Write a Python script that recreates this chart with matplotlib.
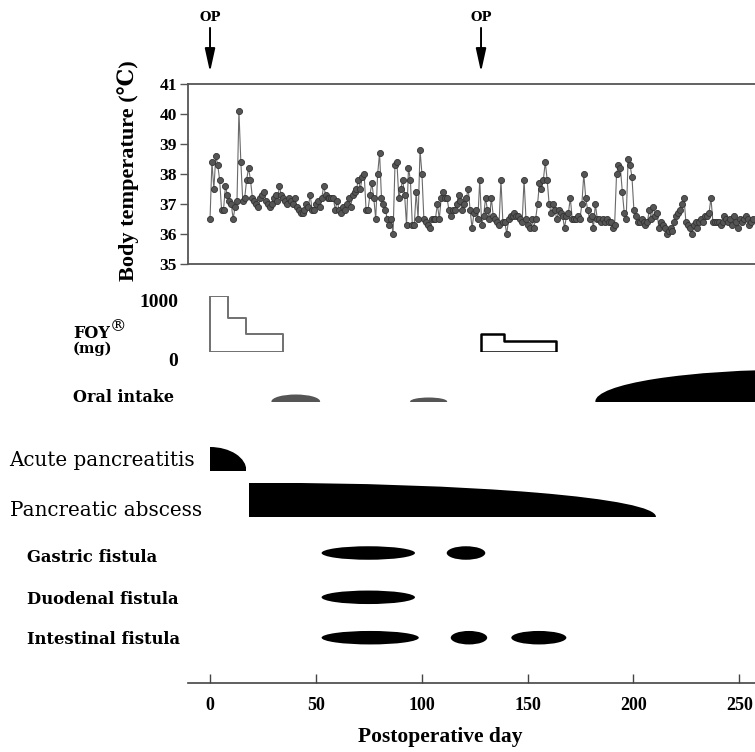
import numpy as np
import matplotlib
matplotlib.use("Agg")
import matplotlib.pyplot as plt
from matplotlib.patches import Ellipse, Rectangle

# ---- data ----
# body temperature readings (deg C), one reading about every 0.91 day from day 0
temp_interval = 0.91
temp = [36.5, 38.4, 37.5, 38.6, 38.3, 37.8, 36.8, 36.8, 37.6, 37.3,
        37.1, 37.0, 36.5, 36.9, 37.1, 40.1, 38.4, 37.1, 37.2, 37.8,
        38.2, 37.8, 37.2, 37.1, 37.0, 36.9, 37.2, 37.3, 37.4, 37.1,
        37.0, 36.9, 37.0, 37.2, 37.3, 37.1, 37.6, 37.3, 37.2, 37.1,
        37.0, 37.2, 37.1, 37.0, 37.2, 36.9, 36.8, 36.7, 36.7, 36.8,
        37.0, 36.9, 37.3, 36.8, 36.8, 37.0, 37.1, 36.9, 37.2, 37.6,
        37.3, 37.2, 37.2, 37.2, 37.2, 36.8, 37.1, 36.8, 36.7, 36.9,
        36.8, 37.0, 37.2, 36.9, 37.3, 37.4, 37.5, 37.8, 37.5, 37.9,
        38.0, 36.8, 36.8, 37.3, 37.7, 37.2, 36.5, 38.0, 38.7, 37.2,
        37.0, 36.8, 36.5, 36.3, 36.5, 36.0, 38.3, 38.4, 37.2, 37.5,
        37.8, 37.3, 36.3, 38.2, 37.8, 36.3, 36.3, 37.4, 36.5, 38.8,
        38.0, 36.5, 36.4, 36.3, 36.2, 36.5, 36.5, 36.5, 37.0, 36.5,
        37.2, 37.4, 37.2, 37.2, 36.8, 36.6, 36.8, 36.8, 37.0, 37.3,
        37.1, 36.8, 37.0, 37.2, 37.5, 36.8, 36.2, 36.7, 36.8, 36.5,
        37.8, 36.3, 36.6, 37.2, 36.8, 36.5, 37.2, 36.6, 36.5, 36.4,
        36.3, 37.8, 36.4, 36.4, 36.0, 36.5, 36.6, 36.6, 36.7, 36.6,
        36.6, 36.5, 36.4, 37.8, 36.5, 36.3, 36.2, 36.5, 36.2, 36.5,
        37.0, 37.7, 37.5, 37.8, 38.4, 37.8, 37.0, 36.7, 37.0, 36.8,
        36.5, 36.8, 36.7, 36.6, 36.2, 36.6, 36.7, 37.2, 36.5, 36.5,
        36.5, 36.6, 36.5, 37.0, 38.0, 37.2, 36.8, 36.5, 36.6, 36.2,
        37.0, 36.5, 36.5, 36.4, 36.5, 36.4, 36.5, 36.4, 36.4, 36.2,
        36.3, 38.0, 38.3, 38.2, 37.4, 36.7, 36.5, 38.5, 38.3, 37.9,
        36.8, 36.6, 36.4, 36.4, 36.5, 36.4, 36.3, 36.4, 36.8, 36.5,
        36.9, 36.6, 36.7, 36.2, 36.4, 36.3, 36.2, 36.0, 36.1, 36.2,
        36.1, 36.4, 36.6, 36.7, 36.8, 37.0, 37.2, 36.4, 36.3, 36.2,
        36.0, 36.3, 36.4, 36.2, 36.4, 36.5, 36.4, 36.6, 36.6, 36.7,
        37.2, 36.4, 36.4, 36.4, 36.4, 36.3, 36.4, 36.6, 36.5, 36.4,
        36.5, 36.3, 36.6, 36.4, 36.2, 36.5, 36.4, 36.5, 36.6, 36.5,
        36.3, 36.4, 36.5]
temp_days = np.arange(len(temp)) * temp_interval

op_days = [0, 128]

# FOY dose (mg): step edges (days) and dose per step
foy1_edges = [0, 8.5, 17, 34.5]
foy1_dose = [1000, 600, 320]
foy2_edges = [128, 139, 163.5]
foy2_dose = [330, 190]

# oral intake episodes: start day, end day, relative amount
oral_start = [29, 94.5, 182]
oral_end = [52, 112, 375]
oral_amount = [7, 4, 32]
oral_color = ["#555555", "#555555", "black"]

# clinical course rows
acute_days = (0, 17.2)
abscess_days = (18.4, 210.6)
gastric = [(52.7, 96.8), (111.8, 130)]
duodenal = [(52.7, 96.8)]
intestinal = [(52.7, 98.6), (113.7, 130.9), (142.3, 168.3)]

day_ticks = [0, 50, 100, 150, 200, 250]
temp_ticks = [35, 36, 37, 38, 39, 40, 41]

# ---- layout ----
W, H = 755, 752
fig = plt.figure(figsize=(W / 100, H / 100), dpi=100)
serif = ["Liberation Serif", "DejaVu Serif"]
wide = ["DejaVu Serif"]
plt.rcParams["font.family"] = serif


def box(x0, y0, x1, y1):
    return [x0 / W, 1 - y1 / H, (x1 - x0) / W, (y1 - y0) / H]


xlim = (-10.4, 257.4)

# temperature panel
ax_t = fig.add_axes(box(188, 84, 755, 264))
ax_t.plot(temp_days, temp, color="#6a6a6a", lw=0.8, marker="o", ms=4.4,
          mfc="#555555", mec="#333333", mew=0.6)
ax_t.set_xlim(xlim)
ax_t.set_ylim(35, 41)
ax_t.set_xticks([])
ax_t.set_yticks(temp_ticks)
ax_t.spines["right"].set_visible(False)
for s in ["left", "top", "bottom"]:
    ax_t.spines[s].set_color("#555555")
    ax_t.spines[s].set_linewidth(1.3)
ax_t.tick_params(axis="y", direction="out", length=6, width=1, pad=2,
                 color="#555555", labelsize=12.5)
for lab in ax_t.get_yticklabels():
    lab.set_fontweight("bold")
ax_t.set_ylabel("Body temperature (\u2103)", fontsize=16, fontweight="bold")
ax_t.yaxis.set_label_coords((139 - 188) / 567, 0.52)

for d in op_days:
    ax_t.annotate("", xy=(d, 41.4), xytext=(d, 42.87), annotation_clip=False,
                  arrowprops=dict(arrowstyle="-|>,head_length=1.0,head_width=0.22",
                                  mutation_scale=14, color="black", lw=1.4,
                                  shrinkA=0, shrinkB=0))
    ax_t.text(d, 43.23, "OP", ha="center", va="center", fontsize=9.5,
              fontweight="bold", family=wide, clip_on=False)

# FOY panel
ax_f = fig.add_axes(box(188, 296, 755, 352))
ax_f.fill_between(foy1_edges, foy1_dose + [foy1_dose[-1]], step="post",
                  facecolor="none", edgecolor="#707070", lw=1.4)
ax_f.fill_between(foy2_edges, foy2_dose + [foy2_dose[-1]], step="post",
                  facecolor="none", edgecolor="black", lw=1.8)
ax_f.set_xlim(xlim)
ax_f.set_ylim(0, 1000)
ax_f.axis("off")
for v, dy in [(1000, -5), (0, -7)]:
    ax_f.annotate(str(v), xy=(0, v), xycoords=("axes fraction", "data"),
                  xytext=(-7, dy), textcoords="offset points", ha="right",
                  va="center", fontsize=14, fontweight="bold")
fig.text(73 / W, 1 - 334 / H, "FOY", fontsize=11.5, fontweight="bold",
         family=wide, va="center", ha="left")
fig.text(110 / W, 1 - 327 / H, "\u00ae", fontsize=12, family=wide,
         va="center", ha="left")
fig.text(73 / W, 1 - 349 / H, "(mg)", fontsize=10.5, fontweight="bold",
         family=wide, va="center", ha="left")

# oral intake panel
ax_o = fig.add_axes(box(188, 366, 755, 401.5))
for s, e, a, c in zip(oral_start, oral_end, oral_amount, oral_color):
    ax_o.add_patch(Ellipse(((s + e) / 2, 0), e - s, 2 * a, color=c, lw=0))
ax_o.set_xlim(xlim)
ax_o.set_ylim(0, 35.5)
ax_o.axis("off")
fig.text(73 / W, 1 - 398 / H, "Oral intake", fontsize=11.5, fontweight="bold",
         family=wide, va="center", ha="left")

# clinical course panel (y in layout rows, downward)
ax_r = fig.add_axes(box(188, 425, 755, 683))
ax_r.set_xlim(xlim)
ax_r.set_ylim(683, 425)

row_acute = (470.7, 447)       # base, top
row_abscess = (516.7, 482.7)
row_gastric = 553
row_duodenal = 597.3
row_intestinal = 637.7
fist_h = 13.5


def quarter(ax, start, end, base, top):
    e = Ellipse((start, base), 2 * (end - start), 2 * (base - top), color="black", lw=0)
    ax.add_patch(e)
    clip = Rectangle((start, top), end - start, base - top, transform=ax.transData)
    e.set_clip_path(clip)


quarter(ax_r, acute_days[0], acute_days[1], *row_acute)
quarter(ax_r, abscess_days[0], abscess_days[1], *row_abscess)
for spans, yc in [(gastric, row_gastric), (duodenal, row_duodenal),
                  (intestinal, row_intestinal)]:
    for s, e in spans:
        ax_r.add_patch(Ellipse(((s + e) / 2, yc), e - s, fist_h, color="black", lw=0))

for s in ["left", "top", "right"]:
    ax_r.spines[s].set_visible(False)
ax_r.spines["bottom"].set_color("#444444")
ax_r.spines["bottom"].set_linewidth(1.2)
ax_r.set_yticks([])
ax_r.set_xticks(day_ticks)
ax_r.tick_params(axis="x", direction="in", length=6.5, width=1, pad=10,
                 color="#444444", labelsize=13)
for lab in ax_r.get_xticklabels():
    lab.set_fontweight("bold")
ax_r.set_xlabel("Postoperative day", fontsize=15.5, fontweight="bold")
ax_r.xaxis.set_label_coords((440 - 188) / 567, -0.17)

fig.text(9.6 / W, 1 - 460 / H, "Acute pancreatitis", fontsize=14.3,
         family=wide, va="center")
fig.text(9.6 / W, 1 - 510 / H, "Pancreatic abscess", fontsize=14.3,
         family=wide, va="center")
fig.text(27.4 / W, 1 - 557 / H, "Gastric fistula", fontsize=11.8,
         fontweight="bold", family=wide, va="center")
fig.text(27.4 / W, 1 - 599 / H, "Duodenal fistula", fontsize=11.8,
         fontweight="bold", family=wide, va="center")
fig.text(27.4 / W, 1 - 639 / H, "Intestinal fistula", fontsize=11.8,
         fontweight="bold", family=wide, va="center")

fig.savefig("out.png", dpi=100)
